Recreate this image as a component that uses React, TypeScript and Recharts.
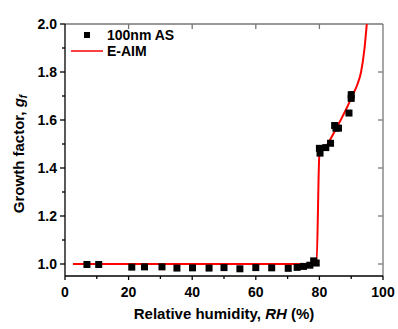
import { ComposedChart, Scatter, Line, XAxis, YAxis, ErrorBar, Legend, Label, ReferenceLine } from 'recharts';

// measured growth factors, 100 nm ammonium sulfate
const rhObs = [6.9, 10.6, 21.0, 25.0, 30.5, 35.2, 40.1, 45.3, 50.0, 55.0, 60.0, 65.0, 70.2, 73.0, 75.0, 77.0, 78.2, 79.0, 80.0, 80.2, 82.0, 83.5, 84.8, 85.2, 86.0, 89.3, 90.0, 90.0];
const gfObs = [0.998, 0.998, 0.987, 0.988, 0.988, 0.983, 0.984, 0.983, 0.985, 0.980, 0.985, 0.984, 0.982, 0.986, 0.990, 0.995, 1.013, 1.004, 1.482, 1.462, 1.485, 1.503, 1.577, 1.566, 1.566, 1.629, 1.704, 1.690];
const gfErr = [0.008, 0, 0, 0, 0, 0, 0, 0, 0, 0, 0, 0, 0, 0, 0, 0, 0, 0, 0, 0, 0, 0, 0.008, 0, 0, 0, 0.014, 0];

// E-AIM model curve
const rhModel = [2.5, 79.1, 80.0, 82.6, 84.7, 86.7, 88.6, 90.3, 92.0, 93.1, 94.2, 94.9];
const gfModel = [1.0, 1.0, 1.455, 1.5, 1.55, 1.6, 1.65, 1.7, 1.75, 1.8, 1.9, 2.0];

const xTicks = [0, 10, 20, 30, 40, 50, 60, 70, 80, 90, 100];
const xMajor = [0, 20, 40, 60, 80, 100];
const yTicks = [1.0, 1.1, 1.2, 1.3, 1.4, 1.5, 1.6, 1.7, 1.8, 1.9, 2.0];
const yMajor = [1.0, 1.2, 1.4, 1.6, 1.8, 2.0];

const X_MIN = 0;
const X_MAX = 100;
const Y_MIN = 0.95;
const Y_MAX = 2.0;

const obsData = rhObs.map((rh, i) => ({ rh, gf: gfObs[i], err: gfErr[i] }));
const modelData = rhModel.map((rh, i) => ({ rh, gf: gfModel[i] }));

const FONT = "'Liberation Sans', Arial, sans-serif";
const isMajor = (list: number[], v: number) => list.some((m) => Math.abs(m - v) < 1e-6);

// tick mark lengths converted to data units (plot is 318 x 252 px)
const xPerPx = (X_MAX - X_MIN) / 318;
const yPerPx = (Y_MAX - Y_MIN) / 252;

function BottomTick({ x, y, payload }: any) {
  if (!isMajor(xMajor, payload.value)) return <g />;
  return (
    <text x={x} y={y + 21} textAnchor="middle" fontFamily={FONT} fontWeight="bold" fontSize={14} fill="#000">
      {payload.value}
    </text>
  );
}

function LeftTick({ x, y, payload }: any) {
  if (!isMajor(yMajor, payload.value)) return <g />;
  return (
    <text x={x - 8} y={y + 5} textAnchor="end" fontFamily={FONT} fontWeight="bold" fontSize={14} fill="#000">
      {payload.value.toFixed(1)}
    </text>
  );
}

function SquareDot({ cx, cy }: any) {
  return <rect x={cx - 3.5} y={cy - 3.5} width={7} height={7} fill="#000" />;
}

function LegendBox() {
  return (
    <svg width={110} height={40} style={{ display: 'block' }}>
      <rect x={19} y={7} width={6} height={6} fill="#000" />
      <text x={42} y={15} fontFamily={FONT} fontWeight="bold" fontSize={14} fill="#000">
        100nm AS
      </text>
      <line x1={6} x2={38} y1={26} y2={26} stroke="#ff0000" strokeWidth={1.5} />
      <text x={42} y={31} fontFamily={FONT} fontWeight="bold" fontSize={14} fill="#000">
        E-AIM
      </text>
    </svg>
  );
}

// short segments for outward (left/bottom) and mirrored inward (top/right) tick marks
const tickMarks = [
  ...xTicks.map((v) => {
    const len = (isMajor(xMajor, v) ? 4 : 3) * yPerPx;
    return { key: `b${v}`, seg: [{ x: v, y: Y_MIN }, { x: v, y: Y_MIN - len }], color: '#000' };
  }),
  ...yTicks.map((v) => {
    const len = (isMajor(yMajor, v) ? 5 : 3) * xPerPx;
    return { key: `l${v}`, seg: [{ x: X_MIN, y: v }, { x: X_MIN - len, y: v }], color: '#000' };
  }),
  ...xMajor
    .filter((v) => v > X_MIN && v < X_MAX)
    .map((v) => ({ key: `t${v}`, seg: [{ x: v, y: Y_MAX }, { x: v, y: Y_MAX - 5 * yPerPx }], color: '#777' })),
  ...yMajor
    .filter((v) => v < Y_MAX)
    .map((v) => ({ key: `r${v}`, seg: [{ x: X_MAX, y: v }, { x: X_MAX - 5 * xPerPx, y: v }], color: '#777' })),
];

export default function App() {
  return (
    <div style={{ position: 'absolute', left: 0, top: 0, width: 398, height: 329, background: '#fff' }}>
      <ComposedChart width={398} height={329} margin={{ top: 24, right: 15, bottom: 0, left: 0 }}>
        <XAxis
          xAxisId="bottom"
          dataKey="rh"
          type="number"
          domain={[X_MIN, X_MAX]}
          ticks={xTicks}
          interval={0}
          height={53}
          tickSize={0}
          tickMargin={0}
          tickLine={false}
          tick={<BottomTick />}
          axisLine={false}
        >
          <Label
            content={() => (
              <text x={224} y={319} textAnchor="middle" fontFamily={FONT} fontWeight="bold" fontSize={15} fill="#000">
                Relative humidity, <tspan fontStyle="italic">RH</tspan> (%)
              </text>
            )}
          />
        </XAxis>
        <XAxis xAxisId="top" orientation="top" type="number" domain={[X_MIN, X_MAX]} height={0} tick={false} tickLine={false} axisLine={false}>
          <Label
            content={() => (
              <text x={65} y={18} fontFamily={FONT} fontWeight="bold" fontSize={14} fill="#000">
                c
              </text>
            )}
          />
        </XAxis>
        <YAxis
          yAxisId="left"
          dataKey="gf"
          type="number"
          domain={[Y_MIN, Y_MAX]}
          allowDataOverflow
          ticks={yTicks}
          interval={0}
          width={65}
          tickSize={0}
          tickMargin={0}
          tickLine={false}
          tick={<LeftTick />}
          axisLine={false}
        >
          <Label
            content={() => (
              <text
                x={24}
                y={154}
                transform="rotate(-90 24 154)"
                textAnchor="middle"
                fontFamily={FONT}
                fontWeight="bold"
                fontSize={15}
                fill="#000"
              >
                Growth factor, <tspan fontStyle="italic">g</tspan>
                <tspan fontStyle="italic" fontSize={10} dy={3}>f</tspan>
              </text>
            )}
          />
        </YAxis>
        <YAxis yAxisId="right" orientation="right" type="number" domain={[Y_MIN, Y_MAX]} width={0} tick={false} tickLine={false} axisLine={false} />

        {/* frame */}
        <ReferenceLine xAxisId="bottom" yAxisId="left" y={Y_MAX} stroke="#777" strokeWidth={1.3} ifOverflow="visible" />
        <ReferenceLine xAxisId="bottom" yAxisId="left" x={X_MAX} stroke="#777" strokeWidth={1.3} ifOverflow="visible" />
        <ReferenceLine xAxisId="bottom" yAxisId="left" x={X_MIN} stroke="#000" strokeWidth={1.3} ifOverflow="visible" />
        <ReferenceLine xAxisId="bottom" yAxisId="left" y={Y_MIN} stroke="#000" strokeWidth={1.3} ifOverflow="visible" />
        {tickMarks.map((t) => (
          <ReferenceLine
            key={t.key}
            xAxisId="bottom"
            yAxisId="left"
            segment={t.seg}
            stroke={t.color}
            strokeWidth={1.3}
            ifOverflow="visible"
          />
        ))}

        <Legend
          verticalAlign="middle"
          align="center"
          layout="horizontal"
          content={() => <LegendBox />}
          wrapperStyle={{ top: 25, left: 65, width: 110 }}
        />
        <Line
          name="E-AIM"
          xAxisId="bottom"
          yAxisId="left"
          data={modelData}
          dataKey="gf"
          type="monotoneX"
          stroke="#ff0000"
          strokeWidth={2}
          dot={false}
          isAnimationActive={false}
        />
        <Scatter
          name="100nm AS"
          xAxisId="bottom"
          yAxisId="left"
          data={obsData}
          dataKey="gf"
          shape={<SquareDot />}
          isAnimationActive={false}
        >
          <ErrorBar dataKey="err" direction="y" width={3} stroke="#000" strokeWidth={1} />
        </Scatter>
      </ComposedChart>
    </div>
  );
}
